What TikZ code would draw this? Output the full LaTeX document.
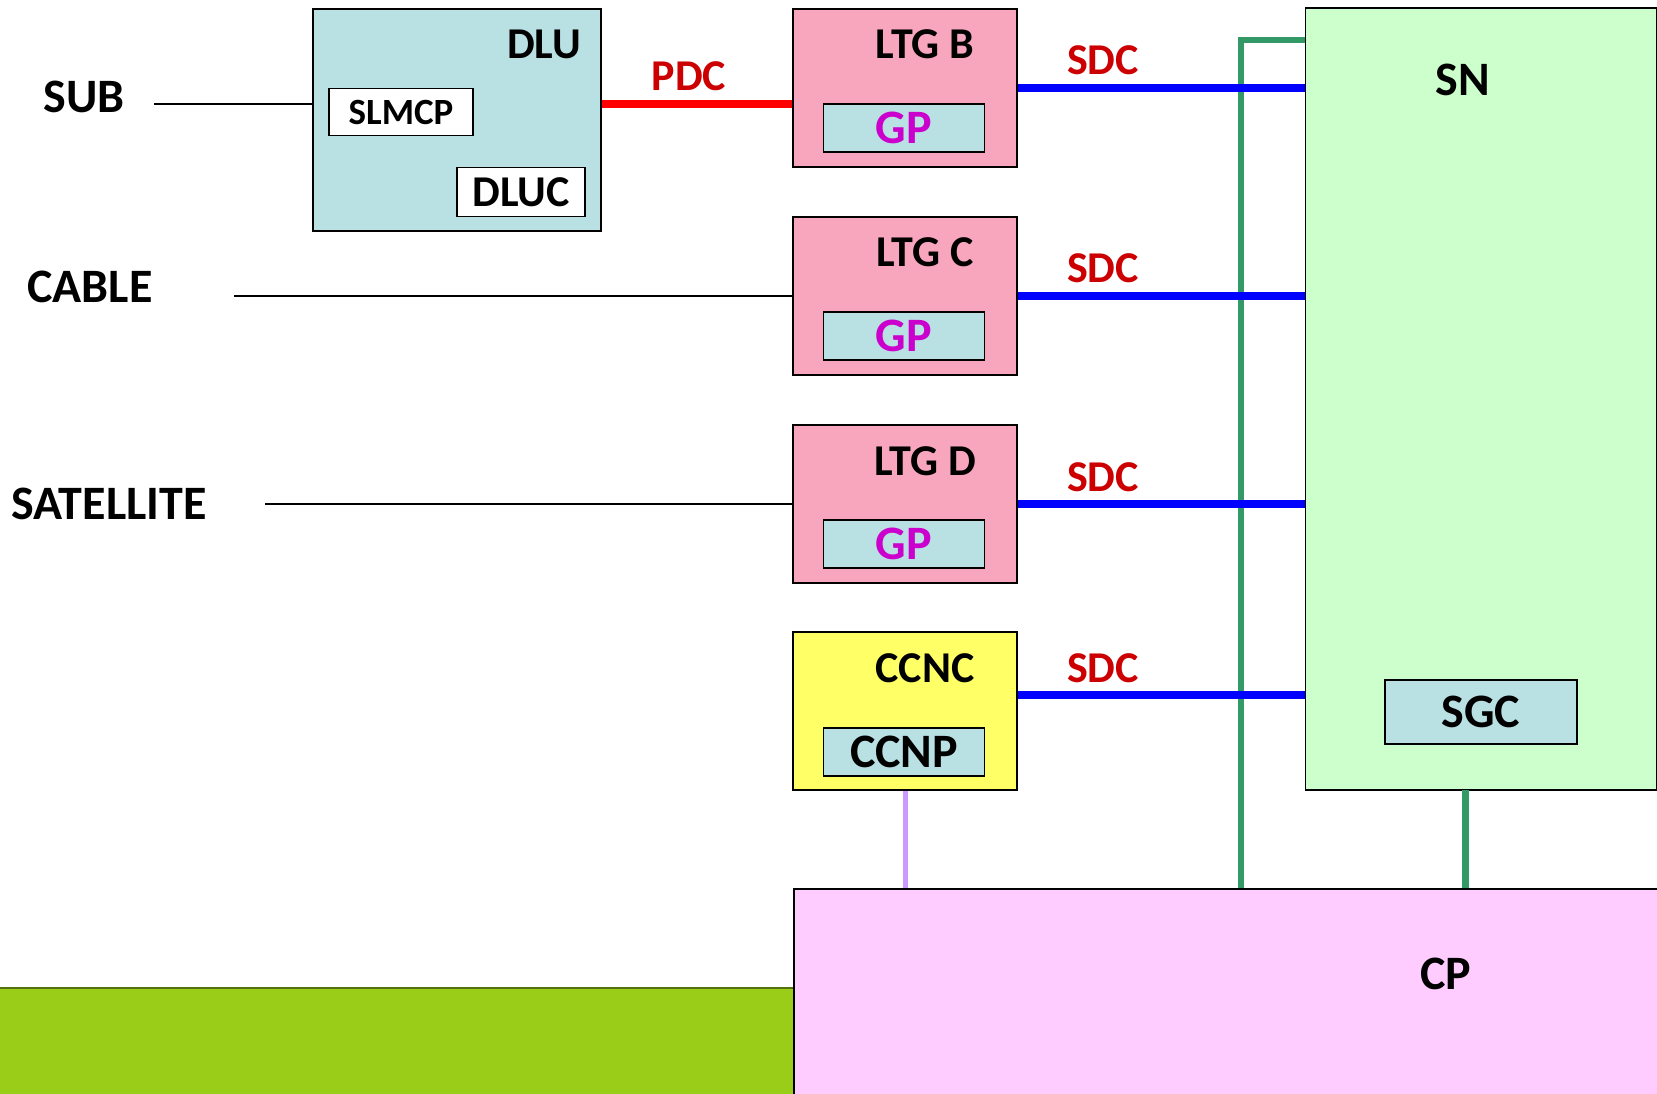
\documentclass[tikz,border=0pt]{standalone}
\usepackage{fontspec}
\setmainfont{Carlito}
\usetikzlibrary{positioning, calc}

\definecolor{dlublue}{HTML}{B9E0E3}
\definecolor{ltgpink}{HTML}{F8A6BE}
\definecolor{ccncyellow}{HTML}{FFFF66}
\definecolor{sngreen}{HTML}{CCFFCC}
\definecolor{cppink}{HTML}{FFCCFF}
\definecolor{sdcred}{HTML}{CC0000}
\definecolor{gpmagenta}{HTML}{CC00CC}
\definecolor{busgreen}{HTML}{339966}
\definecolor{ccnpurple}{HTML}{CC99FF}
\definecolor{barlime}{HTML}{9ACD17}

\begin{document}
\begin{tikzpicture}[
    x=1pt, y=-1pt,
    unit/.style={rectangle, draw, line width=1.8pt, inner sep=0pt},
    sub/.style={unit, line width=1.6pt, minimum width=161pt, minimum height=48pt, fill=dlublue},
    lbl/.style={inner sep=0pt, font=\bfseries\fontsize{44}{48}\selectfont},
    big/.style={inner sep=0pt, font=\bfseries\fontsize{48}{52}\selectfont},
    small/.style={inner sep=0pt, font=\bfseries\fontsize{37}{40}\selectfont},
    sdc/.style={line width=8pt, blue},
    ctrl/.style={line width=5.5pt, busgreen}
]
    \useasboundingbox (0,0) rectangle (1657,1094);

    \fill[barlime] (0,988) rectangle (793,1094);
    \draw[line width=1.5pt, black!45!barlime] (0,988) -- (793,988);

    \node[unit, fill=dlublue, minimum width=288pt, minimum height=222pt] (dlu) at (457,120) {};
    \node[lbl] (dlulbl) at (544,44) {DLU};
    \node[unit, fill=white, minimum width=144pt, minimum height=47pt, small] (slmcp) at (401,112) {SLMCP};
    \node[unit, fill=white, minimum width=128pt, minimum height=49pt, lbl] (dluc) at (521,192) {DLUC};

    \node[unit, fill=ltgpink, minimum width=224pt, minimum height=158pt] (ltgb) at (905,88) {};
    \node[unit, fill=ltgpink, minimum width=224pt, minimum height=158pt] (ltgc) at (905,296) {};
    \node[unit, fill=ltgpink, minimum width=224pt, minimum height=158pt] (ltgd) at (905,504) {};
    \node[unit, fill=ccncyellow, minimum width=224pt, minimum height=158pt] (ccnc) at (905,711) {};
    \node[lbl] (ltgblbl) at (925,44) {LTG B};
    \node[lbl] (ltgclbl) at (925,252) {LTG C};
    \node[lbl] (ltgdlbl) at (925,461) {LTG D};
    \node[lbl] (ccnclbl) at (925,668) {CCNC};
    \node[sub, big, text=gpmagenta] (gpb) at (904,128) {GP};
    \node[sub, big, text=gpmagenta] (gpc) at (904,336) {GP};
    \node[sub, big, text=gpmagenta] (gpd) at (904,544) {GP};
    \node[sub, big] (ccnp) at (904,752) {CCNP};

    \node[unit, fill=sngreen, minimum width=351pt, minimum height=782pt] (sn) at (1481,399) {};
    \node[big] (snlbl) at (1463,80) {SN};
    \node[sub, big, minimum width=192pt, minimum height=64pt] (sgc) at (1481,712) {SGC};

    \node[unit, fill=cppink, minimum width=880pt, minimum height=220pt, anchor=north west] (cp) at (793,888) {};
    \node[big] (cplbl) at (1446,974) {CP};

    \node[big] (sublbl) at (84,97) {SUB};
    \node[big] (cablelbl) at (90,287) {CABLE};
    \node[big] (satlbl) at (109,504) {SATELLITE};
    \coordinate (subend) at (154,104);
    \coordinate (cableend) at (234,296);
    \coordinate (satend) at (265,504);
    \draw[line width=1.4pt] (subend) -- (dlu.west |- subend);
    \draw[line width=1.4pt] (cableend) -- (ltgc.west |- cableend);
    \draw[line width=1.4pt] (satend) -- (ltgd.west |- satend);

    \draw[line width=7.5pt, red] (dlu.east |- subend) -- (ltgb.west |- subend);
    \node[lbl, text=sdcred] (pdclbl) at (689,76) {PDC};

    \coordinate (bus) at (1241,40);
    \draw[ctrl] (sn.west |- bus) -- (bus) -- (bus |- cp.north);
    \coordinate (sntap) at (1465,790);
    \draw[ctrl, line width=7pt] (sntap) -- (sntap |- cp.north);
    \draw[line width=5pt, ccnpurple] (ccnc.south) -- (ccnc.south |- cp.north);

    \draw[sdc] (ltgb.east) -- (ltgb.east -| sn.west);
    \draw[sdc] (ltgc.east) -- (ltgc.east -| sn.west);
    \draw[sdc] (ltgd.east) -- (ltgd.east -| sn.west);
    \draw[sdc] ($(ccnc.east)+(0,-16)$) -- ($(ccnc.east -| sn.west)+(0,-16)$);
    \node[lbl, text=sdcred] (sdcb) at (1103,60) {SDC};
    \node[lbl, text=sdcred] (sdcc) at (1103,268) {SDC};
    \node[lbl, text=sdcred] (sdcd) at (1103,477) {SDC};
    \node[lbl, text=sdcred] (sdce) at (1103,668) {SDC};
\end{tikzpicture}
\end{document}
